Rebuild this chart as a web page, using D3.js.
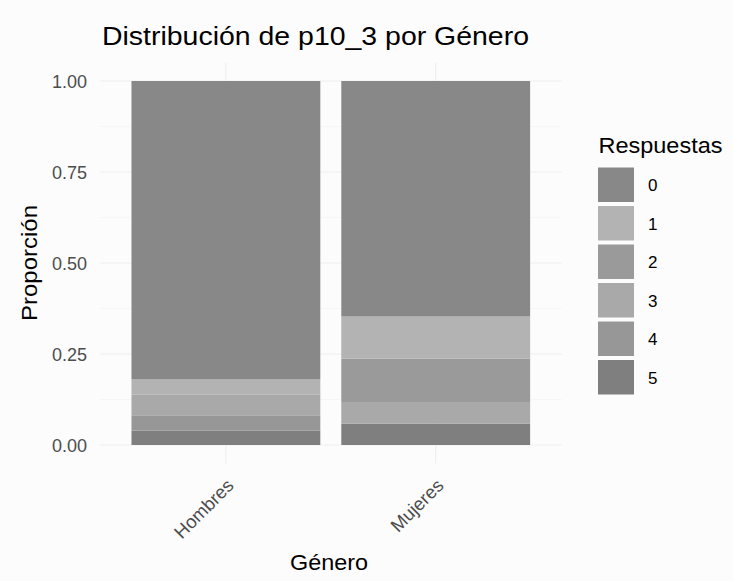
<!DOCTYPE html>
<html>
<head>
<meta charset="utf-8">
<script src="https://cdn.jsdelivr.net/npm/d3@7"></script>
<style>
  html, body { margin: 0; padding: 0; background: #fcfcfc; }
  text { font-family: "Liberation Sans", Arial, sans-serif; }
</style>
</head>
<body>
<svg id="chart" width="733" height="581"></svg>
<script>
// ---- data ----
const categories = ["Hombres", "Mujeres"];
const responses = ["0", "1", "2", "3", "4", "5"];
const prop0 = [0.820, 0.647];
const prop1 = [0.042, 0.116];
const prop2 = [0.000, 0.119];
const prop3 = [0.058, 0.059];
const prop4 = [0.040, 0.000];
const prop5 = [0.040, 0.059];
const fillColors = ["#888888", "#b3b3b3", "#9a9a9a", "#a9a9a9", "#979797", "#7f7f7f"];
const yTicks = [0, 0.25, 0.5, 0.75, 1];
const yMinor = [0.125, 0.375, 0.625, 0.875];
const title = "Distribución de p10_3 por Género";
const xTitle = "Género";
const yTitle = "Proporción";
const legendTitle = "Respuestas";

const series = [prop0, prop1, prop2, prop3, prop4, prop5];
const rows = categories.map((c, i) => {
  const r = { cat: c };
  responses.forEach((k, j) => r[k] = series[j][i]);
  return r;
});
// ggplot stacks first level on top -> stack in reverse order
const stack = d3.stack().keys(responses.slice().reverse());
const stacked = stack(rows);

const FONT = "Liberation Sans, Arial, sans-serif";
const svg = d3.select("#chart");
svg.append("rect").attr("width", 733).attr("height", 581).attr("fill", "#fcfcfc");

const panel = { left: 100, right: 561.6, top: 62.8, bottom: 463.2 };
const x = d3.scaleBand().domain(categories).range([panel.left, panel.right])
  .paddingInner(0.1).paddingOuter(0.15);
const y = d3.scaleLinear().domain([-0.05, 1.05]).range([panel.bottom, panel.top]);
const color = d3.scaleOrdinal().domain(responses).range(fillColors);

// grid
const g = svg.append("g");
g.selectAll(".minor").data(yMinor).join("line")
  .attr("x1", panel.left).attr("x2", panel.right)
  .attr("y1", d => y(d)).attr("y2", d => y(d))
  .attr("stroke", "#f2f2f2").attr("stroke-width", 0.6);
g.selectAll(".major").data(yTicks).join("line")
  .attr("x1", panel.left).attr("x2", panel.right)
  .attr("y1", d => y(d)).attr("y2", d => y(d))
  .attr("stroke", "#eeeeee").attr("stroke-width", 1.1);
g.selectAll(".vmajor").data(categories).join("line")
  .attr("x1", d => x(d) + x.bandwidth() / 2).attr("x2", d => x(d) + x.bandwidth() / 2)
  .attr("y1", panel.top).attr("y2", panel.bottom)
  .attr("stroke", "#eeeeee").attr("stroke-width", 1.1);

// bars
svg.append("g").selectAll("g").data(stacked).join("g")
  .attr("fill", d => color(d.key))
  .selectAll("rect").data(d => d).join("rect")
  .attr("x", d => x(d.data.cat))
  .attr("width", x.bandwidth())
  .attr("y", d => y(d[1]))
  .attr("height", d => y(d[0]) - y(d[1]));

// y axis
const yAxis = d3.axisLeft(y).tickValues(yTicks).tickFormat(d3.format(".2f")).tickSize(0).tickPadding(0);
const ya = svg.append("g").attr("transform", `translate(${panel.left - 13},0)`).call(yAxis);
ya.attr("font-size", null).attr("font-family", null);
ya.select(".domain").remove();
ya.selectAll("text").attr("font-size", 18).attr("fill", "#4d4d4d")
  .attr("font-family", FONT).attr("dy", "0.36em");

// x axis
const xAxis = d3.axisBottom(x).tickSize(0).tickPadding(0);
const xa = svg.append("g").attr("transform", `translate(0,${panel.bottom})`).call(xAxis);
xa.attr("font-size", null).attr("font-family", null);
xa.select(".domain").remove();
xa.selectAll("text")
  .attr("font-size", 18.5).attr("fill", "#4d4d4d")
  .attr("font-family", FONT)
  .attr("text-anchor", "end")
  .attr("dy", 0).attr("y", 0)
  .attr("transform", "translate(9,23.5) rotate(-45)");

// titles
svg.append("text").attr("x", 102).attr("y", 44.5)
  .attr("font-size", 26).attr("fill", "#000")
  .attr("textLength", 427).attr("lengthAdjust", "spacingAndGlyphs")
  .text(title);
svg.append("text").attr("x", 290).attr("y", 570)
  .attr("font-size", 22).attr("fill", "#000")
  .attr("textLength", 78).attr("lengthAdjust", "spacingAndGlyphs")
  .text(xTitle);
svg.append("text")
  .attr("transform", `translate(37,321) rotate(-90)`)
  .attr("font-size", 22).attr("fill", "#000")
  .attr("textLength", 116).attr("lengthAdjust", "spacingAndGlyphs")
  .text(yTitle);

// legend
const lg = svg.append("g").attr("transform", "translate(598,0)");
lg.append("text").attr("x", 0.5).attr("y", 153).attr("font-size", 22).attr("fill", "#000")
  .attr("textLength", 124).attr("lengthAdjust", "spacingAndGlyphs")
  .text(legendTitle);
const items = lg.selectAll(".item").data(responses).join("g")
  .attr("transform", (d, i) => `translate(0,${167.5 + i * 38.5})`);
items.append("rect").attr("width", 36).attr("height", 34.5).attr("fill", d => color(d));
items.append("text").attr("x", 50).attr("y", 17.5).attr("dy", "0.36em")
  .attr("font-size", 17).attr("fill", "#000").text(d => d);
</script>
</body>
</html>
